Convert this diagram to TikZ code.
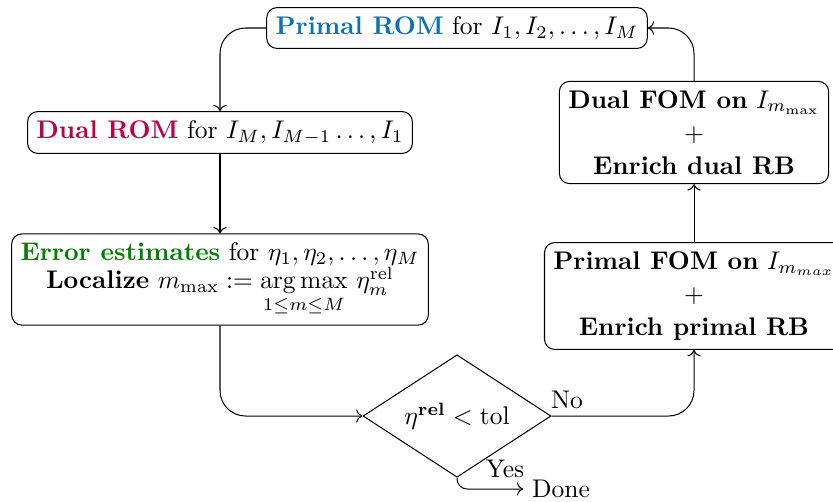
\documentclass[tikz,border=0pt]{standalone}
\usepackage{amsmath}
\usetikzlibrary{shapes.geometric,arrows.meta}
\definecolor{romblue}{RGB}{10,115,180}
\definecolor{romred}{RGB}{190,0,72}
\definecolor{estgreen}{RGB}{0,128,0}
\begin{document}
\begin{tikzpicture}[x=0.392pt,y=-0.392pt,
  box/.style={draw,rounded corners=4pt,align=center,inner sep=3.5pt},
  dec/.style={draw,diamond,aspect=1.5,inner sep=0pt,minimum width=73.7pt,minimum height=48pt},
  conn/.style={->,rounded corners=10pt},
  lbl/.style={inner sep=1pt}]
\clip (0,0) rectangle (833,501);
\node[box] (prom) at (457,28) {\textbf{\color{romblue}Primal ROM} for $I_1, I_2, \ldots, I_M$};
\node[box] (drom) at (220,132.5) {\textbf{\color{romred}Dual ROM} for $I_M, I_{M-1}\ldots, I_1$};
\node[box] (err) at (220,279.5) {\textbf{\color{estgreen}Error estimates} for $\eta_1, \eta_2, \ldots, \eta_M$\\[-1pt]
  \textbf{Localize} $m_{\max} := \mathop{\arg\max}\limits_{1\leq m\leq M}\, \eta_m^{\mathrm{rel}}$};
\node[dec] (dec) at (457,416) {$\eta^{\mathbf{rel}} < \mathrm{tol}$};
\node[box] (pfom) at (694,296) {\textbf{Primal FOM on} $I_{m_{max}}$\\[1pt]$+$\\[1pt]\textbf{Enrich primal RB}};
\node[box] (dfom) at (694,132.5) {\textbf{Dual FOM on} $I_{m_{\max}}$\\[1pt]$+$\\[1pt]\textbf{Enrich dual RB}};
\node[inner sep=3.3pt] (done) at (561,489) {Done};
\draw[conn] (prom.west) -| (drom.north);
\draw[->] (drom.south) -- (err.north);
\draw[conn] (err.south) |- (dec.west);
\draw[conn] (dec.east) -| (pfom.south);
\draw[->] (pfom.north) -- (dfom.south);
\draw[conn] (dfom.north) |- (prom.east);
\draw[->,rounded corners=4pt] (dec.south) |- (done.west);
\node[lbl] (no) at (567,400) {No};
\node[lbl] (yes) at (505,469) {Yes};
\end{tikzpicture}
\end{document}
